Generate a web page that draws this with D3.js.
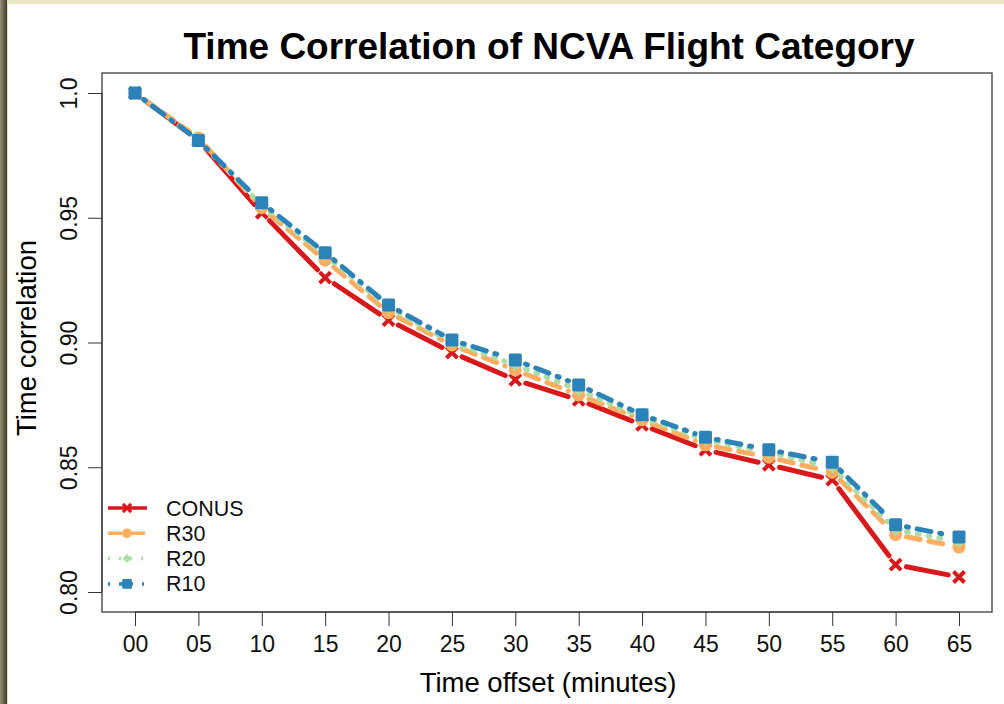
<!DOCTYPE html>
<html>
<head>
<meta charset="utf-8">
<script src="https://cdn.jsdelivr.net/npm/d3@7"></script>
<style>
  body { margin: 0; background: #fff; }
  svg text { font-family: "Liberation Sans", Arial, sans-serif; }
</style>
</head>
<body>
<div id="chart"></div>
<script>
// Data
const offsets = [0, 5, 10, 15, 20, 25, 30, 35, 40, 45, 50, 55, 60, 65];
const tickLabels = ["00", "05", "10", "15", "20", "25", "30", "35", "40", "45", "50", "55", "60", "65"];
const yTicks = [0.80, 0.85, 0.90, 0.95, 1.0];
const yTickLabels = ["0.80", "0.85", "0.90", "0.95", "1.0"];

const conus = [1.0, 0.981, 0.952, 0.926, 0.909, 0.896, 0.885, 0.877, 0.867, 0.857, 0.851, 0.845, 0.811, 0.806];
const r30 = [1.0, 0.982, 0.954, 0.933, 0.912, 0.899, 0.889, 0.879, 0.869, 0.859, 0.854, 0.848, 0.823, 0.818];
const r20 = [1.0, 0.981, 0.955, 0.935, 0.914, 0.900, 0.891, 0.881, 0.870, 0.861, 0.856, 0.850, 0.825, 0.820];
const r10 = [1.0, 0.981, 0.956, 0.936, 0.915, 0.901, 0.893, 0.883, 0.871, 0.862, 0.857, 0.852, 0.827, 0.822];

const series = [
  { name: "CONUS", values: conus, color: "#d7191c", dash: null, shape: "x" },
  { name: "R30", values: r30, color: "#fdae61", dash: "14,9", shape: "circle" },
  { name: "R20", values: r20, color: "#abdda4", dash: "2,9", shape: "diamond" },
  { name: "R10", values: r10, color: "#2b83ba", dash: "2,9,14,9", shape: "square" }
];

const W = 1004, H = 704;
const box = { left: 102, top: 73, right: 992, bottom: 612 };

const svg = d3.select("#chart")
  .append("svg")
  .attr("width", W)
  .attr("height", H);

// outer frame: beige top band, dark left band
svg.append("rect").attr("x", 0).attr("y", 0).attr("width", W).attr("height", 4).attr("fill", "#ebe6c6");
const grad = svg.append("defs").append("linearGradient").attr("id", "lb");
grad.append("stop").attr("offset", "0%").attr("stop-color", "#9b9274");
grad.append("stop").attr("offset", "100%").attr("stop-color", "#3b3a30");
svg.append("rect").attr("x", 0).attr("y", 0).attr("width", 7).attr("height", H).attr("fill", "url(#lb)");
svg.append("rect").attr("x", 7).attr("y", 4).attr("width", 1).attr("height", H).attr("fill", "#e9e2a8");

const x = d3.scaleLinear().domain([0, 65]).range([135, 959]);
const y = d3.scaleLinear().domain([0.80, 1.0]).range([592, 93]);

// plot box
svg.append("rect")
  .attr("x", box.left).attr("y", box.top)
  .attr("width", box.right - box.left).attr("height", box.bottom - box.top)
  .attr("fill", "none").attr("stroke", "#555").attr("stroke-width", 1.5);

// x axis
const xAxis = svg.append("g")
  .attr("transform", `translate(0,${box.bottom})`)
  .call(d3.axisBottom(x).tickValues(offsets).tickFormat((d, i) => tickLabels[i]).tickSize(14).tickPadding(10));
xAxis.select(".domain").attr("d", `M${x(0)},0H${x(65)}`).attr("stroke", "#333");
xAxis.selectAll(".tick line").attr("stroke", "#333");
xAxis.selectAll(".tick text").attr("font-size", 23).attr("fill", "#111")
  .attr("font-family", "Liberation Sans, Arial, sans-serif");

// y axis
const yAxis = svg.append("g")
  .attr("transform", `translate(${box.left},0)`)
  .call(d3.axisLeft(y).tickValues(yTicks).tickFormat((d, i) => yTickLabels[i]).tickSize(14));
yAxis.select(".domain").attr("d", `M0,${y(0.80)}V${y(1.0)}`).attr("stroke", "#333");
yAxis.selectAll(".tick line").attr("stroke", "#333");
yAxis.selectAll(".tick text")
  .attr("font-size", 23).attr("fill", "#111")
  .attr("font-family", "Liberation Sans, Arial, sans-serif")
  .attr("x", null).attr("dy", null)
  .attr("text-anchor", "middle")
  .attr("transform", "translate(-25,0) rotate(-90)");

// titles
svg.append("text")
  .attr("x", 549).attr("y", 59)
  .attr("text-anchor", "middle")
  .attr("font-size", 37).attr("font-weight", "bold")
  .text("Time Correlation of NCVA Flight Category");

svg.append("text")
  .attr("x", 548).attr("y", 692)
  .attr("text-anchor", "middle")
  .attr("font-size", 27.5)
  .text("Time offset (minutes)");

svg.append("text")
  .attr("transform", "translate(36,338) rotate(-90)")
  .attr("text-anchor", "middle")
  .attr("font-size", 27.5)
  .text("Time correlation");

// marker drawing
function marker(g, shape, cx, cy, color, k = 1) {
  if (shape === "x") {
    const s = 5.5 * k;
    g.append("path")
      .attr("d", `M${cx - s},${cy - s}L${cx + s},${cy + s}M${cx - s},${cy + s}L${cx + s},${cy - s}`)
      .attr("stroke", color).attr("stroke-width", 4 * k);
  } else if (shape === "circle") {
    g.append("circle").attr("cx", cx).attr("cy", cy).attr("r", 6.5 * k).attr("fill", color);
  } else if (shape === "diamond") {
    const s = 6 * k;
    g.append("path").attr("d", `M${cx},${cy - s}L${cx + s},${cy}L${cx},${cy + s}L${cx - s},${cy}Z`).attr("fill", color);
  } else {
    const s = 6.5 * k;
    g.append("rect").attr("x", cx - s).attr("y", cy - s).attr("width", 2 * s).attr("height", 2 * s)
      .attr("rx", 1.5).attr("fill", color);
  }
}

// series: R type "b" (segments with gaps round points)
const gap = 11;
series.forEach(s => {
  const g = svg.append("g");
  const pts = s.values.map((v, i) => [x(offsets[i]), y(v)]);
  for (let i = 0; i < pts.length - 1; i++) {
    const [x0, y0] = pts[i], [x1, y1] = pts[i + 1];
    const len = Math.hypot(x1 - x0, y1 - y0);
    if (len <= 2 * gap) continue;
    const ux = (x1 - x0) / len, uy = (y1 - y0) / len;
    g.append("line")
      .attr("x1", x0 + ux * gap).attr("y1", y0 + uy * gap)
      .attr("x2", x1 - ux * gap).attr("y2", y1 - uy * gap)
      .attr("stroke", s.color).attr("stroke-width", 5)
      .attr("stroke-linecap", "round")
      .attr("stroke-dasharray", s.dash);
  }
  pts.forEach(p => marker(g, s.shape, p[0], p[1], s.color));
});

// legend
const legend = svg.append("g");
series.forEach((s, i) => {
  const ly = 508 + i * 25.3;
  legend.append("line")
    .attr("x1", 108).attr("x2", 147).attr("y1", ly).attr("y2", ly)
    .attr("stroke", s.color).attr("stroke-width", 3.5)
    .attr("stroke-dasharray", s.dash);
  marker(legend, s.shape, 127, ly, s.color, 0.75);
  legend.append("text")
    .attr("x", 166).attr("y", ly + 7.5)
    .attr("font-size", 21.5).attr("fill", "#111")
    .text(s.name);
});
</script>
</body>
</html>
